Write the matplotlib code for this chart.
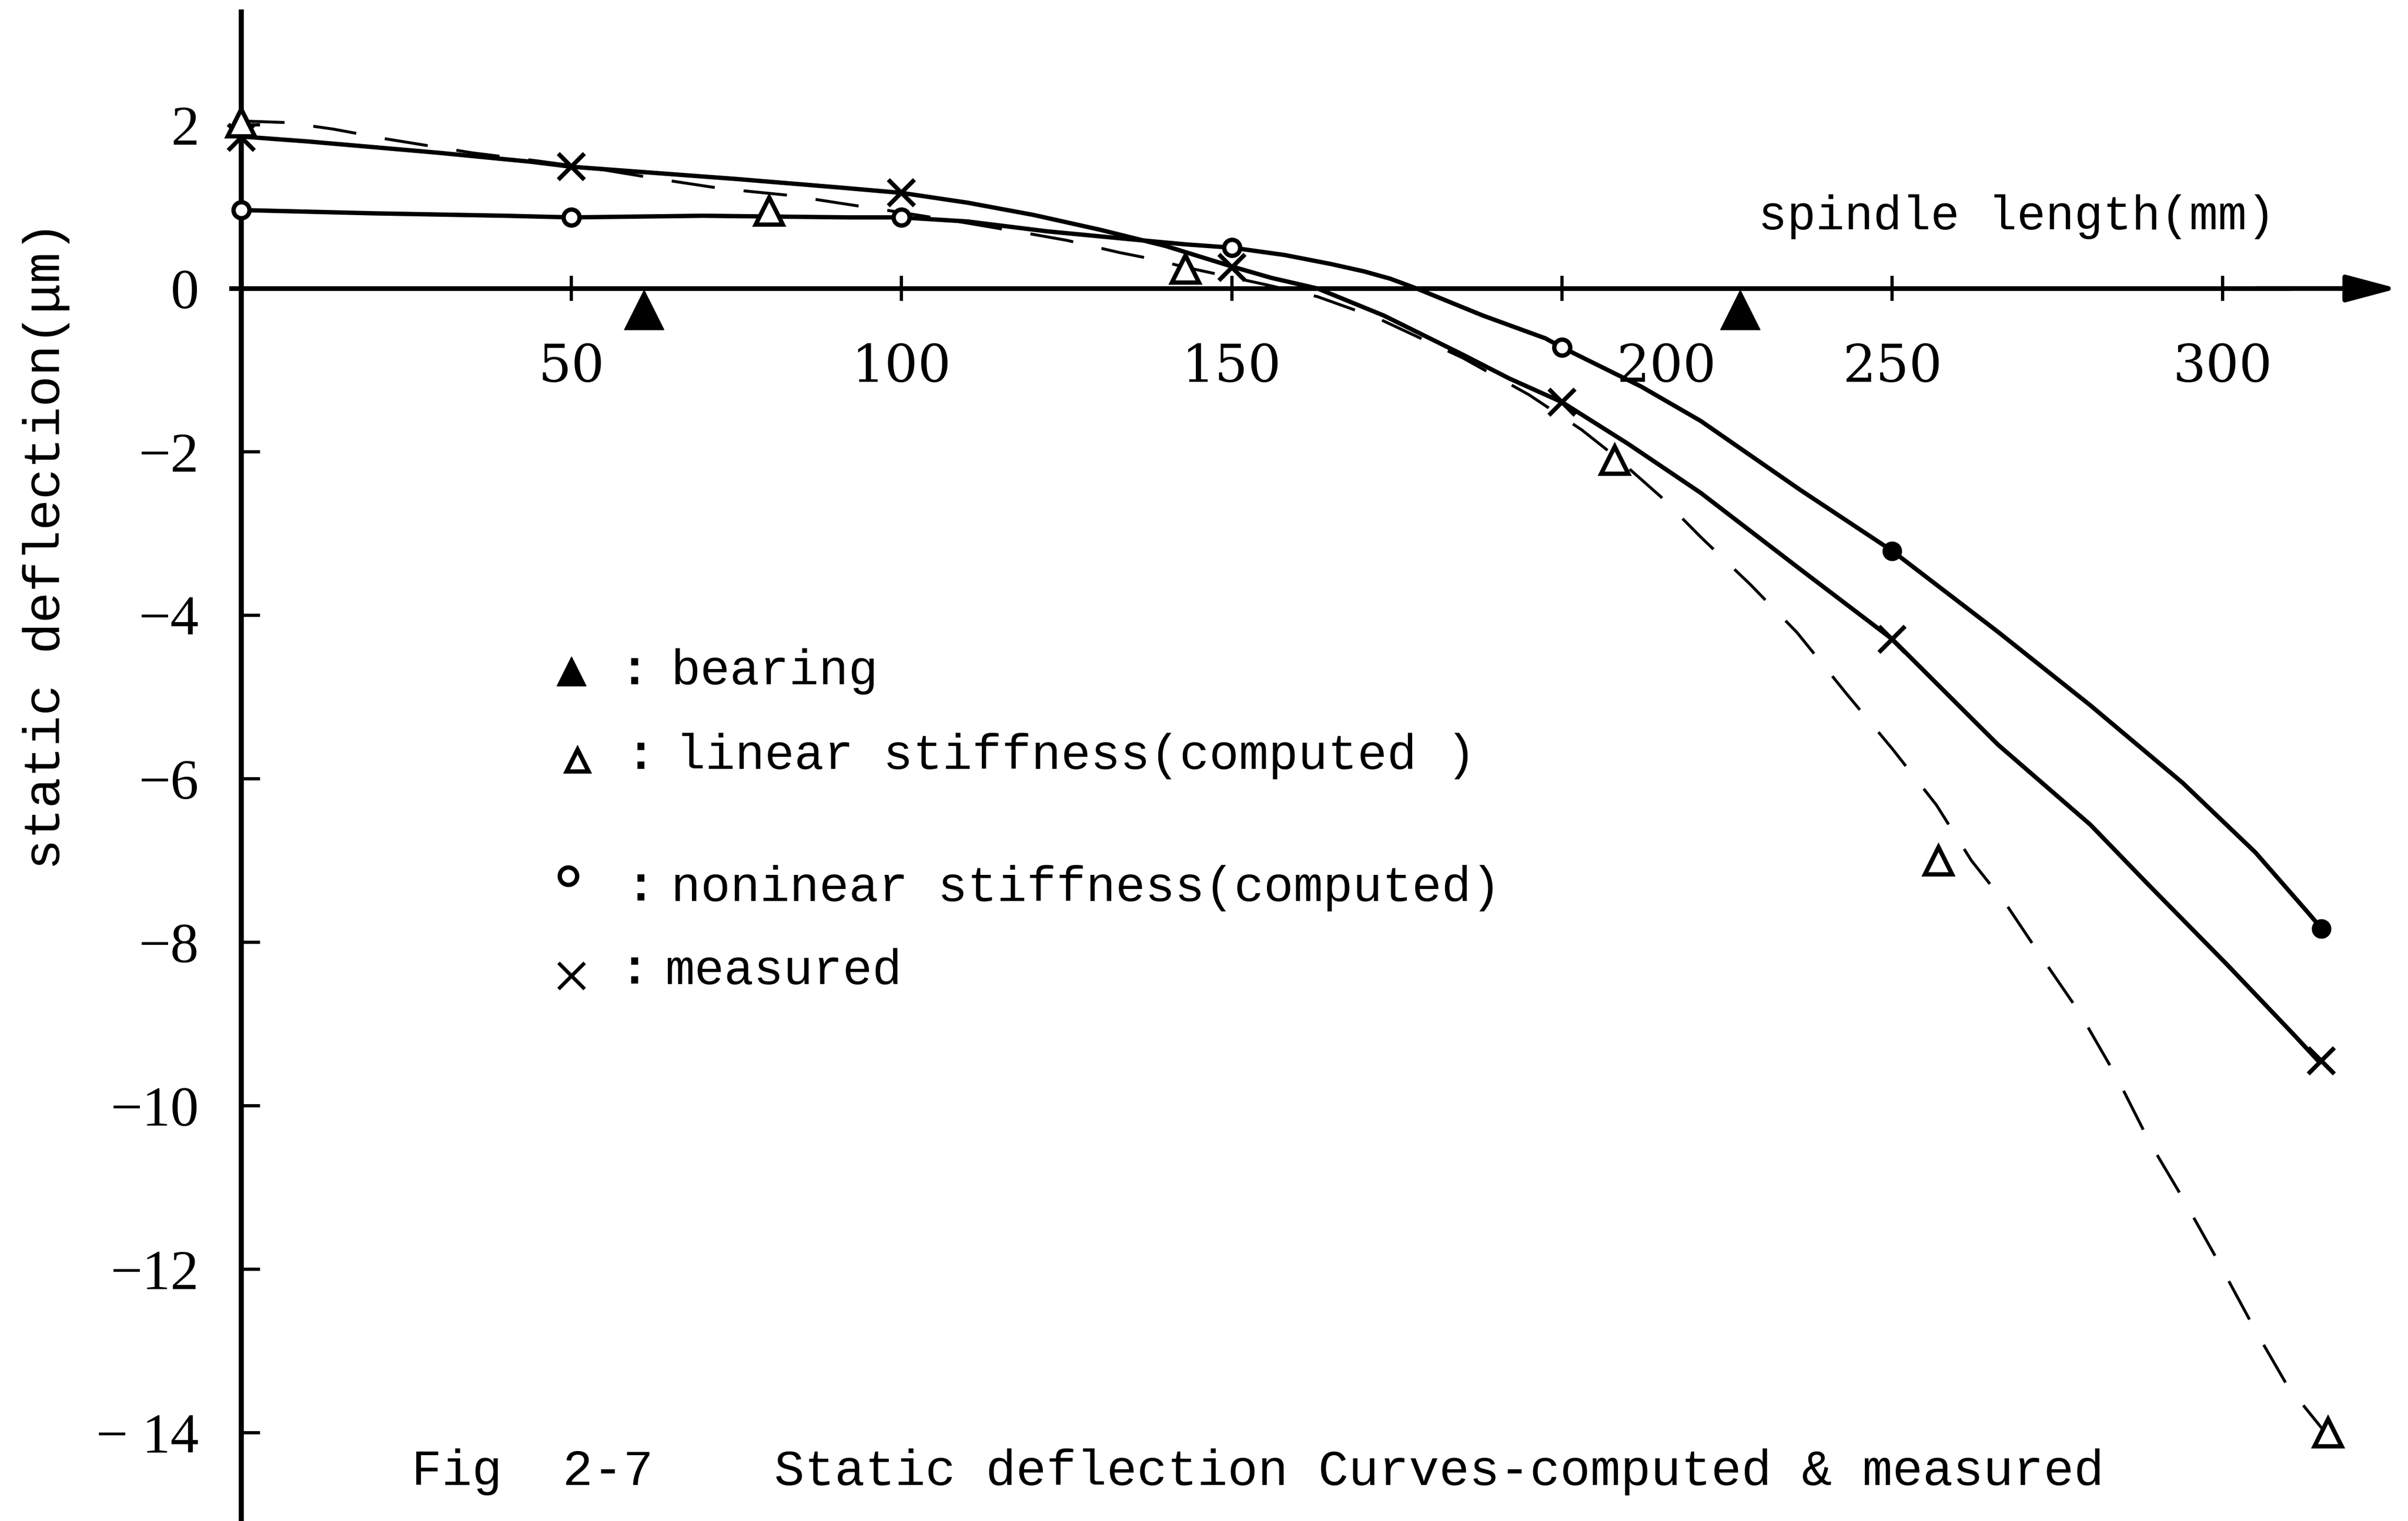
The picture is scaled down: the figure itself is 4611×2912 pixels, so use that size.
"""
Static deflection curves of the spindle, computed and measured.
"""

import matplotlib
matplotlib.use("Agg")
import matplotlib.pyplot as plt
import matplotlib.transforms as mtransforms

plt.rcParams["font.family"] = ["Liberation Mono", "DejaVu Sans Mono"]

# curves (spindle length mm, deflection um)
nonlinear_curve_x = [0, 20, 40, 50, 70, 92, 100, 110, 122, 135, 143, 150, 158,
                     165, 170, 174, 178, 188, 197.5, 200, 203, 212, 221, 236,
                     250, 266, 280, 294, 305, 313, 315]
nonlinear_curve_y = [0.96, 0.92, 0.89, 0.87, 0.89, 0.87, 0.87, 0.82, 0.70,
                     0.60, 0.54, 0.50, 0.41, 0.30, 0.21, 0.12, 0.0, -0.33,
                     -0.61, -0.72, -0.84, -1.2, -1.62, -2.46, -3.21, -4.2,
                     -5.1, -6.05, -6.9, -7.64, -7.83]

measured_curve_x = [0, 10, 20, 30, 44, 50, 60, 75, 90, 100, 110, 120, 130,
                    140, 150, 156, 163, 173, 185, 192, 200, 210, 221, 236,
                    250, 266, 280, 288.5, 300.8, 310.7, 314.5]
measured_curve_y = [1.86, 1.80, 1.73, 1.66, 1.55, 1.49, 1.43, 1.34, 1.24,
                    1.17, 1.05, 0.90, 0.72, 0.52, 0.27, 0.13, 0.0, -0.33,
                    -0.81, -1.10, -1.39, -1.9, -2.5, -3.43, -4.29, -5.58,
                    -6.56, -7.27, -8.28, -9.12, -9.45]

linear_curve_x = [0, 7, 14, 22, 35, 45, 55, 64, 73, 83, 91, 100, 110, 118,
                  125, 133, 138, 143, 155, 163, 172, 185, 195, 203, 208, 215,
                  221, 228.5, 235.6, 243, 250, 256.7, 262, 267.3, 272.6,
                  278.3, 284, 289, 294, 299.2, 305, 309.8, 315.6]
linear_curve_y = [2.05, 2.03, 1.95, 1.83, 1.66, 1.56, 1.45, 1.33, 1.22, 1.14,
                  1.04, 0.93, 0.80, 0.69, 0.59, 0.44, 0.36, 0.26, 0.05, -0.1,
                  -0.36, -0.85, -1.30, -1.73, -2.05, -2.55, -3.04, -3.62,
                  -4.21, -4.95, -5.63, -6.32, -7.0, -7.54, -8.18, -8.85,
                  -9.65, -10.45, -11.13, -11.88, -12.75, -13.42, -14.0]

# plotted points
nonlinear_x = [0, 50, 100, 150, 200, 250, 315]
nonlinear_y = [0.96, 0.87, 0.87, 0.50, -0.72, -3.21, -7.83]

measured_x = [0, 50, 100, 150, 200, 250, 315]
measured_y = [1.85, 1.49, 1.17, 0.26, -1.39, -4.29, -9.45]

linear_x = [0, 80, 143, 208, 257, 316]
linear_y = [2.03, 0.95, 0.24, -2.1, -7.0, -14.0]

bearing_x = [61, 227]
bearing_y = [-0.26, -0.26]

x_ticks = [50, 100, 150, 200, 250, 300]
x_tick_labels = ["50", "100", "150", "200", "250", "300"]
y_ticks = [2, 0, -2, -4, -6, -8, -10, -12, -14]
y_tick_labels = ["2", "0", "\u22122", "\u22124", "\u22126", "\u22128",
                 "\u221210", "\u221212", "\u2212 14"]

legend_labels = [
    "bearing",
    "linear stiffness(computed )",
    "noninear stiffness(computed)",
    "measured",
]

fig = plt.figure(figsize=(46.11, 29.12), dpi=100)
ax = fig.add_axes([0, 0, 1, 1])
ax.set_xlim(-36.5, 328.1)
ax.set_ylim(-15.08, 3.53)

# curves
ax.plot(nonlinear_curve_x, nonlinear_curve_y, color="black", lw=6,
        solid_capstyle="round", solid_joinstyle="round")
ax.plot(measured_curve_x, measured_curve_y, color="black", lw=6,
        solid_capstyle="round", solid_joinstyle="round")
ax.plot(linear_curve_x, linear_curve_y, color="black", lw=4,
        dashes=(15, 10))

# markers
ax.plot(nonlinear_x[:5], nonlinear_y[:5], "o", ms=22, mfc="white",
        mec="black", mew=6, zorder=5)
ax.plot(nonlinear_x[5:], nonlinear_y[5:], "o", ms=26, mfc="black",
        mec="black", zorder=5)
ax.plot(measured_x, measured_y, "x", ms=36, mec="black", mew=6, zorder=5)
ax.plot(linear_x, linear_y, "^", ms=38, mfc="white", mec="black",
        mew=6, zorder=5)
ax.plot(bearing_x, bearing_y, "^", ms=55, mfc="black", mec="black",
        zorder=5)

# axes through the origin
for side in ["top", "right"]:
    ax.spines[side].set_visible(False)
ax.spines["left"].set_position(("data", 0))
ax.spines["bottom"].set_position(("data", 0))
ax.spines["left"].set_linewidth(7)
ax.spines["bottom"].set_linewidth(6.5)
ax.spines["left"].set_bounds(-15.08, 3.38)
ax.spines["bottom"].set_bounds(-1.5, 310)

ax.annotate(
    "",
    xy=(326.5, 0),
    xytext=(305, 0),
    arrowprops=dict(
        arrowstyle="-|>,head_length=60,head_width=16",
        mutation_scale=1,
        lw=6.5,
        color="black",
        shrinkA=0,
        shrinkB=0,
    ),
)

ax.set_xticks(x_ticks)
ax.set_xticklabels(x_tick_labels)
ax.set_yticks(y_ticks)
ax.set_yticklabels(y_tick_labels)

ax.tick_params(axis="x", direction="inout", length=34, width=4.5,
               pad=58, labelsize=72)
ax.tick_params(axis="y", direction="in", length=26, width=4.5,
               pad=58, labelsize=78)
for label in ax.get_xticklabels():
    label.set_family("DejaVu Serif")
for label in ax.get_yticklabels():
    label.set_family("Liberation Serif")

# the 200 label sits to the right of its tick
shift = mtransforms.ScaledTranslation(2.0, 0, fig.dpi_scale_trans)
label_200 = ax.get_xticklabels()[3]
label_200.set_transform(label_200.get_transform() + shift)

# axis titles
fig.text(0.0191, 0.6414, "static deflection(\u03bcm)", rotation=90,
         ha="center", va="center", fontsize=71)
fig.text(0.7302, 0.8576, "spindle length(mm)", ha="left", va="center",
         fontsize=66)

# legend drawn by hand
marker_pos = [(0.2372, 0.5586), (0.2398, 0.5000),
              (0.2360, 0.4242), (0.2372, 0.3586)]
text_pos = [(0.2787, 0.5586), (0.2806, 0.5030),
            (0.2787, 0.4162), (0.2761, 0.3616)]
colon_x = [0.2634, 0.2660, 0.2660, 0.2634]

ax.plot(*marker_pos[0], "^", ms=40, mfc="black", mec="black",
        transform=ax.transAxes)
ax.plot(*marker_pos[1], "^", ms=30, mfc="white", mec="black", mew=6,
        transform=ax.transAxes)
ax.plot(*marker_pos[2], "o", ms=24, mfc="white", mec="black", mew=6,
        transform=ax.transAxes)
ax.plot(*marker_pos[3], "x", ms=36, mec="black", mew=5,
        transform=ax.transAxes)

for (tx, ty), cx, label in zip(text_pos, colon_x, legend_labels):
    fig.text(cx, ty, ":", ha="center", va="center", fontsize=68,
             fontweight="bold")
    fig.text(tx, ty, label, ha="left", va="center", fontsize=68)

fig.text(0.1709, 0.0323,
         "Fig  2-7    Static deflection Curves-computed & measured",
         ha="left", va="center", fontsize=69.5)

fig.savefig("out.png", dpi=100, facecolor="white")
plt.close(fig)
